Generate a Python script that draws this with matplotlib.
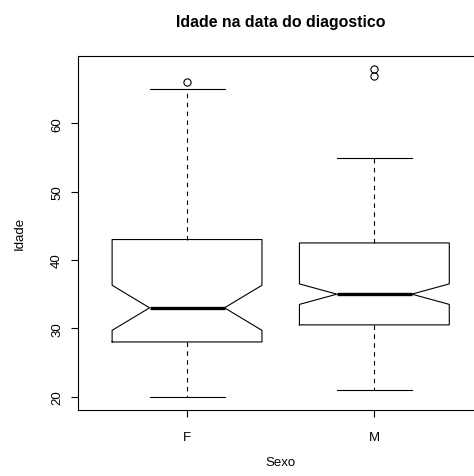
import matplotlib
matplotlib.use('Agg')
import matplotlib.pyplot as plt

# valores (Idade por Sexo)
grupos = ['F', 'M']
q1 = [28.0, 30.5]
mediana = [33.0, 35.0]
q3 = [43.0, 42.5]
whis_lo = [20.0, 21.0]
whis_hi = [65.0, 55.0]
notch_lo = [29.7, 33.5]
notch_hi = [36.3, 36.5]
outliers = [[66.0], [67.0, 68.0]]
yticks = [20, 30, 40, 50, 60]

plt.rcParams['font.family'] = ['Liberation Sans', 'DejaVu Sans']

stats = []
for i in range(len(grupos)):
    stats.append(dict(label=grupos[i], q1=q1[i], med=mediana[i], q3=q3[i],
                      whislo=whis_lo[i], whishi=whis_hi[i],
                      cilo=notch_lo[i], cihi=notch_hi[i], fliers=outliers[i]))

fig = plt.figure(figsize=(4.74, 4.77), dpi=100)
ax = fig.add_axes([78.4/474, 1-410.7/477, (483-78.4)/474, (410.7-56.7)/477])

ax.bxp(stats, positions=[1, 2], widths=0.8, shownotches=True,
       boxprops=dict(color='black', linewidth=0.8),
       whiskerprops=dict(color='black', linewidth=0.8, linestyle=(0, (4, 4))),
       capprops=dict(color='black', linewidth=0.8),
       medianprops=dict(color='black', linewidth=2.4, solid_capstyle='butt'),
       flierprops=dict(marker='o', markerfacecolor='none', markeredgecolor='black',
                       markersize=5.2, markeredgewidth=0.8))

ax.set_xlim(0.42, 2.58)
ax.set_ylim(18.08, 69.92)
ax.set_yticks(yticks)
ax.set_yticklabels([str(v) for v in yticks], rotation=90, va='center', fontsize=9.5)
ax.set_xticks([1, 2])
ax.set_xticklabels(grupos, fontsize=9.5)
ax.tick_params(axis='both', direction='out', length=5, width=0.8)
ax.tick_params(axis='y', pad=6)
ax.tick_params(axis='x', pad=10)
for s in ax.spines.values():
    s.set_linewidth(0.8)

ax.set_xlabel('Sexo', fontsize=9.5)
ax.set_ylabel('Idade', fontsize=9.5)
ax.xaxis.set_label_coords(0.5, -0.131)
ax.yaxis.set_label_coords(-0.1295, 0.5)
ax.text(0.5, 1.097, 'Idade na data do diagostico', transform=ax.transAxes,
        ha='center', va='center', fontsize=11.4, fontweight='bold')

fig.savefig('out.png', dpi=100)
